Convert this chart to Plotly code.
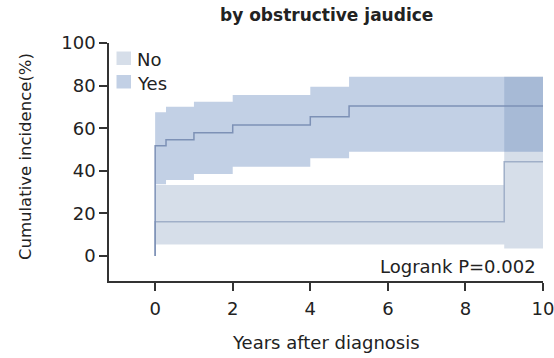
import plotly.graph_objects as go

# Data
yes_t = [0, 0.28, 1.0, 2.0, 4.0, 5.0, 10.0]
yes_est = [51.8, 54.6, 57.9, 61.5, 65.4, 70.4, 70.4]
yes_upper = [67.5, 70.1, 72.4, 75.6, 79.5, 84.2, 84.2]
yes_lower = [33.7, 35.7, 38.5, 41.9, 45.9, 49.0, 49.0]

no_t = [0, 9.0, 10.0]
no_est = [16.1, 44.3, 44.3]
no_upper = [33.3, 84.2, 84.2]
no_lower = [5.4, 3.6, 3.6]

groups = ["No", "Yes"]
x_ticks = [0, 2, 4, 6, 8, 10]
y_ticks = [0, 20, 40, 60, 80, 100]

no_fill = "rgba(118,145,182,0.30)"
yes_fill = "rgba(80,120,180,0.35)"
no_line = "rgb(160,175,200)"
yes_line = "rgb(125,145,182)"
legend_cols = ["rgb(214,222,233)", "rgb(194,208,229)"]

FONT = "DejaVu Sans, Liberation Sans, Arial, sans-serif"
TXT = "#222"

L, R, T, B = 109, 11, 43, 77
W, H = 554, 358
PW, PH = W - L - R, H - T - B

def px_x(px):
    return (px - L) / PW

def px_y(py):
    return 1 - (py - T) / PH

fig = go.Figure()

def band(t, lo, hi, col):
    fig.add_trace(go.Scatter(x=t, y=lo, mode="lines", line=dict(width=0, shape="hv"),
                             showlegend=False, hoverinfo="skip"))
    fig.add_trace(go.Scatter(x=t, y=hi, mode="lines", line=dict(width=0, shape="hv"),
                             fill="tonexty", fillcolor=col, showlegend=False, hoverinfo="skip"))

band(no_t, no_lower, no_upper, no_fill)
band(yes_t, yes_lower, yes_upper, yes_fill)

fig.add_trace(go.Scatter(x=[0] + no_t, y=[0] + no_est, mode="lines", name="No",
                         line=dict(color=no_line, width=1.5, shape="hv"), showlegend=False))
fig.add_trace(go.Scatter(x=[0] + yes_t, y=[0] + yes_est, mode="lines", name="Yes",
                         line=dict(color=yes_line, width=1.5, shape="hv"), showlegend=False))

# manual legend (squares + labels) at top-left inside the plot
shapes = []
annotations = []
for i, (g, c) in enumerate(zip(groups, legend_cols)):
    top = 51.5 + i * 23.5
    shapes.append(dict(type="rect", xref="paper", yref="paper",
                       x0=px_x(116.5), x1=px_x(131), y0=px_y(top + 13.5), y1=px_y(top),
                       fillcolor=c, line=dict(width=0), layer="above"))
    annotations.append(dict(text=g, xref="paper", yref="paper",
                            x=px_x(135), y=px_y(top + 8), xanchor="left", yanchor="middle",
                            showarrow=False, font=dict(size=18, color=TXT)))

annotations += [
    dict(text="<b>by obstructive jaudice</b>", xref="paper", yref="paper",
         x=0.5, y=px_y(15), xanchor="center", yanchor="middle",
         showarrow=False, font=dict(size=17, color=TXT)),
    dict(text="Cumulative incidence(%)", xref="paper", yref="paper",
         x=px_x(25), y=px_y(157), xanchor="center", yanchor="middle",
         textangle=-90, showarrow=False, font=dict(size=16.5, color=TXT)),
    dict(text="Years after diagnosis", xref="paper", yref="paper",
         x=0.5, y=px_y(342), xanchor="center", yanchor="middle",
         showarrow=False, font=dict(size=18, color=TXT)),
    dict(text="Logrank P=0.002", xref="paper", yref="y",
         x=px_x(538), y=-5.0, xanchor="right", yanchor="middle",
         showarrow=False, font=dict(size=18, color=TXT)),
]

fig.update_layout(
    width=W, height=H,
    margin=dict(l=L, r=R, t=T, b=B),
    plot_bgcolor="white", paper_bgcolor="white",
    font=dict(family=FONT, size=18, color=TXT),
    showlegend=False,
    xaxis=dict(range=[-1.19, 10.0], tickvals=x_ticks, ticks="outside", ticklen=8,
               tickwidth=1.5, tickcolor="#333", showline=True, linecolor="#333",
               linewidth=1.5, showgrid=False, zeroline=False, ticklabelstandoff=3,
               ticklabeloverflow="allow", automargin=False,
               tickfont=dict(size=18, color=TXT)),
    yaxis=dict(range=[-11.7, 100], tickvals=y_ticks, ticks="outside", ticklen=8,
               tickwidth=1.5, tickcolor="#333", showline=True, linecolor="#333",
               linewidth=1.5, showgrid=False, zeroline=False,
               ticklabeloverflow="allow", automargin=False,
               tickfont=dict(size=18, color=TXT)),
    shapes=shapes,
    annotations=annotations,
)

fig.write_html("out.html")
